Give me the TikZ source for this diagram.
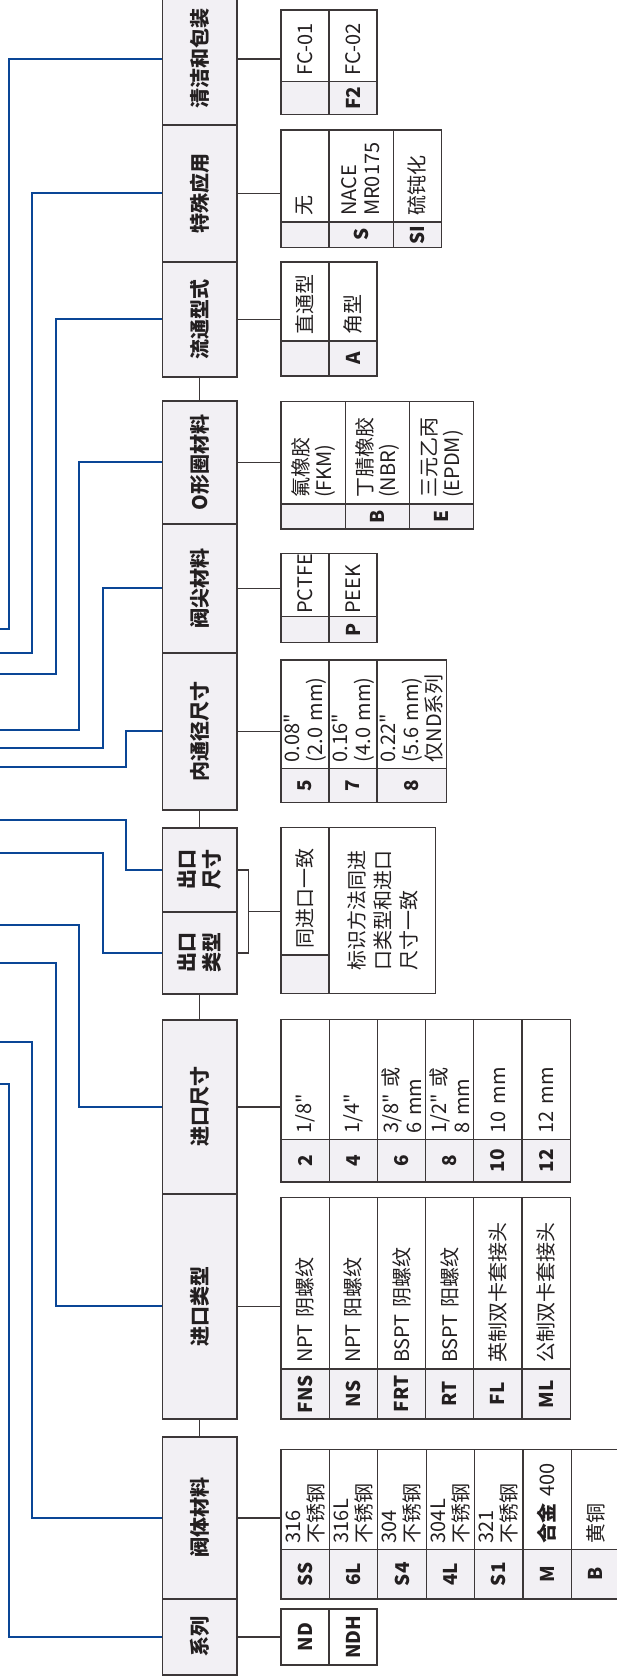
\documentclass[tikz,border=0pt]{standalone}
\usepackage{fontspec}
\setmainfont{Noto Sans CJK SC}
\definecolor{hdrfill}{RGB}{242,240,244}
\definecolor{lncol}{RGB}{60,55,56}
\definecolor{txtcol}{RGB}{35,31,32}
\definecolor{wireblue}{RGB}{10,70,150}
\newcommand\hdrfont{\fontsize{20}{25}\selectfont\bfseries}
\newcommand\codefont{\fontsize{19}{22}\selectfont\bfseries}
\newcommand\descfont{\fontsize{20}{23}\selectfont}
\newcommand\inch{\textquotedbl}

\begin{document}
\begin{tikzpicture}[rotate=90, transform shape, x=1pt, y=1pt,
  box/.style={draw=lncol, line width=1.2pt, inner sep=0pt, text=txtcol},
  hdr/.style={box, fill=hdrfill, font=\hdrfont, align=center, minimum height=74.5pt},
  code/.style={box, fill=hdrfill, font=\codefont, align=center},
  desc/.style={box, fill=white, font=\descfont, align=left, inner xsep=6pt, text width=#1},
  link/.style={draw=lncol, line width=1.2pt},
  wire/.style={draw=wireblue, line width=2pt}]
  \useasboundingbox (0,0) rectangle (1680,617);
  \clip (0,0) rectangle (1680,617);

  \node[hdr, minimum width=76pt]  (hser)     at (43,417.25)     {系列};
  \node[hdr, minimum width=162pt] (hbody)    at (162,417.25)    {阀体材料};
  \node[hdr, minimum width=225pt] (hintype)  at (373.5,417.25)  {进口类型};
  \node[hdr, minimum width=174pt] (hinsize)  at (573,417.25)    {进口尺寸};
  \node[hdr, minimum width=82pt]  (houttype) at (727,417.25)    {出口\\类型};
  \node[hdr, minimum width=84pt]  (houtsize) at (810,417.25)    {出口\\尺寸};
  \node[hdr, minimum width=157pt] (hbore)    at (948.5,417.25)  {内通径尺寸};
  \node[hdr, minimum width=129pt] (htip)     at (1091.5,417.25) {阀尖材料};
  \node[hdr, minimum width=123pt] (horing)   at (1217.5,417.25) {O形圈材料};
  \node[hdr, minimum width=115pt] (hflow)    at (1360.5,417.25) {流通型式};
  \node[hdr, minimum width=137pt] (hspec)    at (1486.5,417.25) {特殊应用};
  \node[hdr, minimum width=132pt] (hclean)   at (1621,417.25)   {清洁和包装};

  \draw[link] (hbody.east) -- (hintype.west);
  \draw[link] (hinsize.east) -- (houttype.west);
  \draw[link] (houtsize.east) -- (hbore.west);
  \draw[link] (horing.east) -- (hflow.west);

  \foreach \cd [count=\i] in {ND, NDH}
    \node[code, fill=white, minimum width=56pt, minimum height=48pt] (tser\i) at (43,{360-48*\i}) {\cd};

  \foreach \cd/\tx [count=\i] in {SS/{316\\不锈钢}, 6L/{316L\\不锈钢}, S4/{304\\不锈钢},
      4L/{304L\\不锈钢}, S1/{321\\不锈钢}, M/{{\bfseries 合金} 400}, B/黄铜} {
    \node[code, minimum width=49.7pt, minimum height=48.4pt] (tbodyc\i) at (105.85,{360.2-48.4*\i}) {\cd};
    \node[desc=88pt, minimum height=48.4pt] (tbody\i) at (180.7,{360.2-48.4*\i}) {\tx};
  }

  \foreach \cd/\tx [count=\i] in {FNS/NPT 阴螺纹, NS/NPT 阳螺纹, FRT/BSPT 阴螺纹,
      RT/BSPT 阳螺纹, FL/英制双卡套接头, ML/公制双卡套接头} {
    \node[code, minimum width=50pt, minimum height=48.2pt] (tintypec\i) at (286,{360.1-48.2*\i}) {\cd};
    \node[desc=159.3pt, minimum height=48.2pt] (tintype\i) at (396.65,{360.1-48.2*\i}) {\tx};
  }

  \foreach \cd/\tx [count=\i] in {2/{1/8\inch}, 4/{1/4\inch}, 6/{3/8\inch{} 或\\6 mm},
      8/{1/2\inch{} 或\\8 mm}, 10/{10 mm}, 12/{12 mm}} {
    \node[code, minimum width=42.7pt, minimum height=48.2pt] (tinsizec\i) at (519.35,{360.1-48.2*\i}) {\cd};
    \node[desc=108pt, minimum height=48.2pt] (tinsize\i) at (600.7,{360.1-48.2*\i}) {\tx};
  }

  \node[code, minimum width=38.3pt, minimum height=48pt] (toutc1) at (705.85,312) {};
  \node[desc=115.3pt, minimum height=48pt] (tout1) at (788.65,312) {同进口一致};
  \node[box, fill=white, font={\fontsize{20}{26}\selectfont}, align=left,
    minimum width=165.6pt, minimum height=106.8pt] (tout2) at (769.5,234.6)
    {标识方法同进\\口类型和进口\\尺寸一致};

  \foreach \cd/\tx/\ry/\rh [count=\i] in {5/{0.08\inch\\(2.0 mm)}/312/48,
      7/{0.16\inch\\(4.0 mm)}/264/48, 8/{0.22\inch\\(5.6 mm)\\仅ND系列}/205.05/69.9} {
    \node[code, minimum width=34.4pt, minimum height=\rh pt] (tborec\i) at (894.5,\ry) {\cd};
    \node[desc=96.3pt, minimum height=\rh pt] (tbore\i) at (965.85,\ry) {\tx};
  }

  \foreach \cd/\tx [count=\i] in {{}/PCTFE, P/PEEK} {
    \node[code, minimum width=25.6pt, minimum height=48pt] (ttipc\i) at (1050.5,{360-48*\i}) {\cd};
    \node[desc=57.4pt, inner xsep=3pt, minimum height=48pt] (ttip\i) at (1095,{360-48*\i}) {\tx};
  }

  \foreach \cd/\tx [count=\i] in {{}/{氟橡胶\\(FKM)}, B/{丁腈橡胶\\(NBR)}, E/{三元乙丙\\(EPDM)}} {
    \node[code, minimum width=25pt, minimum height=64.3pt] (toringc\i) at (1163.5,{368.15-64.3*\i}) {\cd};
    \node[desc=90.7pt, minimum height=64.3pt] (toring\i) at (1227.35,{368.15-64.3*\i}) {\tx};
  }

  \foreach \cd/\tx [count=\i] in {{}/直通型, A/角型} {
    \node[code, minimum width=35pt, minimum height=48pt] (tflowc\i) at (1321.5,{360-48*\i}) {\cd};
    \node[desc=67pt, minimum height=48pt] (tflow\i) at (1378.5,{360-48*\i}) {\tx};
  }

  \foreach \cd/\tx/\ry/\rh [count=\i] in {{}/无/312/48, S/{NACE\\MR0175}/255.85/64.3, SI/硫钝化/199.7/48} {
    \node[code, minimum width=25.7pt, minimum height=\rh pt] (tspecc\i) at (1445.15,\ry) {\cd};
    \node[desc=80pt, minimum height=\rh pt] (tspec\i) at (1504,\ry) {\tx};
  }

  \foreach \cd/\tx [count=\i] in {{}/FC-01, F2/FC-02} {
    \node[code, minimum width=32.6pt, minimum height=48pt] (tcleanc\i) at (1582,{360-48*\i}) {\cd};
    \node[desc=59.7pt, minimum height=48pt] (tclean\i) at (1634.15,{360-48*\i}) {\tx};
  }

  \foreach \hh/\tn in {hser/tser1, hbody/tbody1, hintype/tintype1, hinsize/tinsize1,
      hbore/tbore1, htip/ttip1, horing/toring1, hflow/tflow1, hspec/tspec1, hclean/tclean1}
    \draw[link] (\hh.south) -- (\hh.south |- \tn.north);

  \coordinate (obr) at (768.5,368.6);
  \draw[link] (houttype.south) |- (obr) -| (houtsize.south);
  \draw[link] (obr) -- (obr |- tout1.north);

  \foreach \hh/\xt/\yl in {hser/596/608, hbody/638/584.5, hintype/717/561,
      hinsize/755/537.5, houttype/827/514, houtsize/860/490.5, hbore/913/490.5,
      htip/932/514, horing/950/537.5, hflow/1006/561, hspec/1027/584.5, hclean/1051/608}
    \draw[wire] (\hh.north) |- (\xt,\yl) -- (\xt,630);
\end{tikzpicture}
\end{document}
